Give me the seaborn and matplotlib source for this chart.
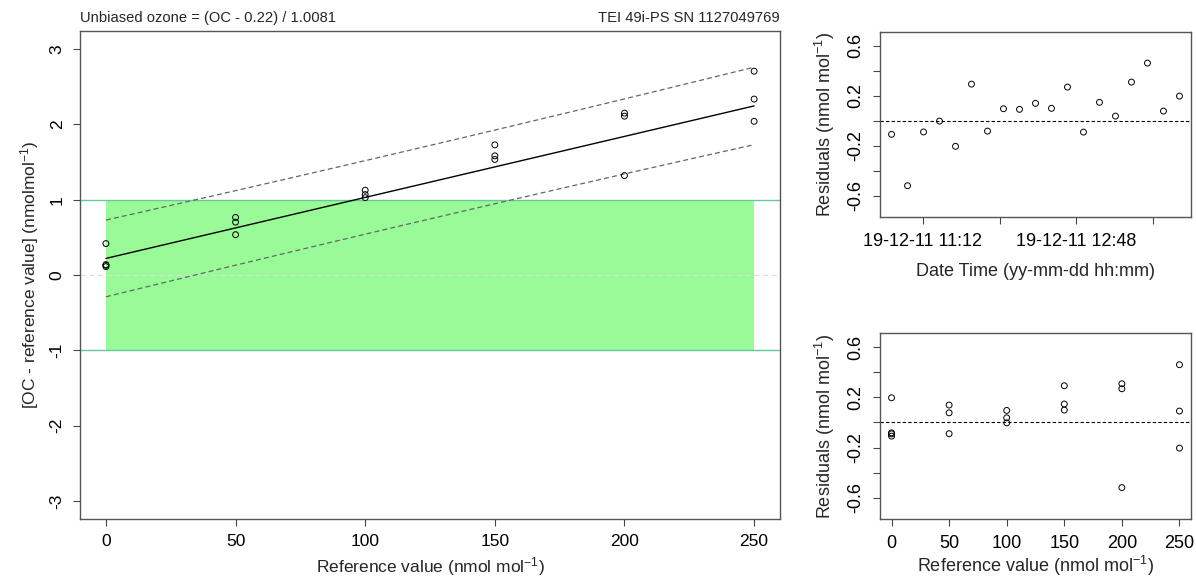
import numpy as np
import pandas as pd
import matplotlib
matplotlib.use("Agg")
import matplotlib.pyplot as plt
import matplotlib.dates as mdates
import seaborn as sns

# ---- data -------------------------------------------------------------
# measurement times (one point every 10 minutes)
times = [
    "2019-12-11 10:52:30", "2019-12-11 11:02:30", "2019-12-11 11:12:30",
    "2019-12-11 11:22:30", "2019-12-11 11:32:30", "2019-12-11 11:42:30",
    "2019-12-11 11:52:30", "2019-12-11 12:02:30", "2019-12-11 12:12:30",
    "2019-12-11 12:22:30", "2019-12-11 12:32:30", "2019-12-11 12:42:30",
    "2019-12-11 12:52:30", "2019-12-11 13:02:30", "2019-12-11 13:12:30",
    "2019-12-11 13:22:30", "2019-12-11 13:32:30", "2019-12-11 13:42:30",
    "2019-12-11 13:52:30",
]
# reference ozone values (nmol/mol)
reference = [0, 200, 50, 100, 250, 150, 0, 100, 250, 50, 150, 200,
             0, 150, 100, 200, 250, 50, 0]
# residuals about the calibration line (nmol/mol)
residuals = [-0.109, -0.520, -0.090, -0.003, -0.205, 0.293, -0.083, 0.096,
             0.091, 0.139, 0.099, 0.269, -0.091, 0.147, 0.037, 0.309,
             0.461, 0.077, 0.197]

# calibration: OC = intercept + slope * reference
intercept = 0.22
slope = 1.0081
instrument = "TEI 49i-PS SN 1127049769"

tolerance = 1.0          # acceptance band (+/- nmol/mol)
t_quantile = 2.110       # Student t, 97.5 %, 17 d.o.f.

# ---- derived quantities -----------------------------------------------
df = pd.DataFrame({
    "time": pd.to_datetime(times),
    "ref": np.array(reference, dtype=float),
    "resid": np.array(residuals),
})
df["diff"] = df["resid"] + intercept + (slope - 1.0) * df["ref"]

n = len(df)
centered = df["resid"] - df["resid"].mean()
s = np.sqrt(np.sum(centered ** 2) / (n - 2))
xbar = df["ref"].mean()
sxx = np.sum((df["ref"] - xbar) ** 2)
xline = np.linspace(df["ref"].min(), df["ref"].max(), 101)
fit = intercept + (slope - 1.0) * xline
half = t_quantile * s * np.sqrt(1 + 1 / n + (xline - xbar) ** 2 / sxx)
lines = pd.DataFrame({"x": xline, "fit": fit, "upr": fit + half, "lwr": fit - half})


def r_range(lo, hi, frac=0.04):
    pad = (hi - lo) * frac
    return lo - pad, hi + pad


# ---- style ------------------------------------------------------------
sns.set_theme(style="ticks")
plt.rcParams["font.family"] = ["Liberation Sans", "DejaVu Sans"]
plt.rcParams["mathtext.fontset"] = "custom"
plt.rcParams["mathtext.rm"] = "Liberation Sans"
plt.rcParams["mathtext.it"] = "Liberation Sans"
plt.rcParams["axes.unicode_minus"] = False
FS_MAIN = 12.5
FS_SIDE = 13
FS_HEAD = 10.6
frame_col = "#555555"

fig = plt.figure(figsize=(11.96, 5.78), dpi=100)
ax = fig.add_axes([0.0669, 0.1021, 0.5853, 0.8443])
ax_t = fig.add_axes([0.7358, 0.624, 0.2600, 0.3211])
ax_b = fig.add_axes([0.7358, 0.1016, 0.2600, 0.3218])


def r_frame(a, fs):
    for sp in a.spines.values():
        sp.set_visible(True)
        sp.set_color(frame_col)
        sp.set_linewidth(1.0)
    a.tick_params(axis="both", length=5, width=0.8, color="#444444",
                  labelsize=fs, labelcolor="black", pad=6)
    for lab in a.get_yticklabels():
        lab.set_rotation(90)
        lab.set_va("center")
        lab.set_ha("right")


circ = dict(marker="o", s=18, facecolors="none", edgecolors="black",
            linewidth=0.7, legend=False, zorder=5)

# ---- main panel -------------------------------------------------------
ax.fill_between([df["ref"].min(), df["ref"].max()], -tolerance, tolerance,
                color="#98FB98", lw=0, zorder=1)
ax.axhline(tolerance, color="#66C79A", lw=1.0, zorder=2)
ax.axhline(-tolerance, color="#66C79A", lw=1.0, zorder=2)
ax.axhline(0, color="#DDDDDD", lw=0.9, ls=(0, (4, 3)), zorder=1.5)

sns.lineplot(data=lines, x="x", y="fit", ax=ax, color="black", lw=1.0, zorder=3)
sns.lineplot(data=lines, x="x", y="upr", ax=ax, color="#666666", lw=0.9,
             zorder=3, linestyle=(0, (4, 2.5)))
sns.lineplot(data=lines, x="x", y="lwr", ax=ax, color="#666666", lw=0.9,
             zorder=3, linestyle=(0, (4, 2.5)))
sns.scatterplot(data=df, x="ref", y="diff", ax=ax, **circ)

ax.set_xlim(*r_range(0, 250))
ax.set_ylim(-3.24, 3.24)
ax.set_xticks([0, 50, 100, 150, 200, 250])
ax.set_yticks([-3, -2, -1, 0, 1, 2, 3])
ax.set_xlabel("Reference value (nmol mol$^{-1}$)", fontsize=FS_MAIN)
ax.set_ylabel("[OC - reference value] (nmolmol$^{-1}$)", fontsize=FS_MAIN)
ax.xaxis.set_label_coords(0.5, -0.075)
ax.yaxis.set_label_coords(-0.056, 0.5)
r_frame(ax, FS_MAIN)
ax.text(0, 1.012, f"Unbiased ozone = (OC - {intercept:.2f}) / {slope:.4f}",
        transform=ax.transAxes, ha="left", va="bottom", fontsize=FS_HEAD)
ax.text(1, 1.012, instrument, transform=ax.transAxes, ha="right",
        va="bottom", fontsize=FS_HEAD)

# ---- residuals vs time ------------------------------------------------
ax_t.axhline(0, color="black", lw=0.8, ls=(0, (3, 2)), zorder=2)
sns.scatterplot(data=df, x="time", y="resid", ax=ax_t, **circ)
t0, t1 = mdates.date2num(df["time"].min()), mdates.date2num(df["time"].max())
ax_t.set_xlim(*r_range(t0, t1))
tick_times = pd.to_datetime(["2019-12-11 11:12", "2019-12-11 12:00",
                             "2019-12-11 12:48", "2019-12-11 13:36"])
ax_t.set_xticks(mdates.date2num(tick_times))
ax_t.set_xticklabels(["19-12-11 11:12", "", "19-12-11 12:48", ""])
ax_t.set_ylim(-0.773, 0.712)
ax_t.set_yticks([-0.6, -0.4, -0.2, 0.0, 0.2, 0.4, 0.6])
ax_t.set_yticklabels(["-0.6", "", "-0.2", "", "0.2", "", "0.6"])
ax_t.set_xlabel("Date Time (yy-mm-dd hh:mm)", fontsize=FS_SIDE)
ax_t.set_ylabel("Residuals (nmol mol$^{-1}$)", fontsize=FS_SIDE)
ax_t.xaxis.set_label_coords(0.5, -0.245)
ax_t.yaxis.set_label_coords(-0.139, 0.5)
r_frame(ax_t, FS_SIDE)

# ---- residuals vs reference -------------------------------------------
ax_b.axhline(0, color="black", lw=0.8, ls=(0, (3, 2)), zorder=2)
sns.scatterplot(data=df, x="ref", y="resid", ax=ax_b, **circ)
ax_b.set_xlim(*r_range(0, 250))
ax_b.set_xticks([0, 50, 100, 150, 200, 250])
ax_b.set_ylim(-0.773, 0.712)
ax_b.set_yticks([-0.6, -0.4, -0.2, 0.0, 0.2, 0.4, 0.6])
ax_b.set_yticklabels(["-0.6", "", "-0.2", "", "0.2", "", "0.6"])
ax_b.set_xlabel("Reference value (nmol mol$^{-1}$)", fontsize=FS_SIDE)
ax_b.set_ylabel("Residuals (nmol mol$^{-1}$)", fontsize=FS_SIDE)
ax_b.xaxis.set_label_coords(0.5, -0.185)
ax_b.yaxis.set_label_coords(-0.139, 0.5)
r_frame(ax_b, FS_SIDE)

fig.savefig("out.png", dpi=100, facecolor="white")
